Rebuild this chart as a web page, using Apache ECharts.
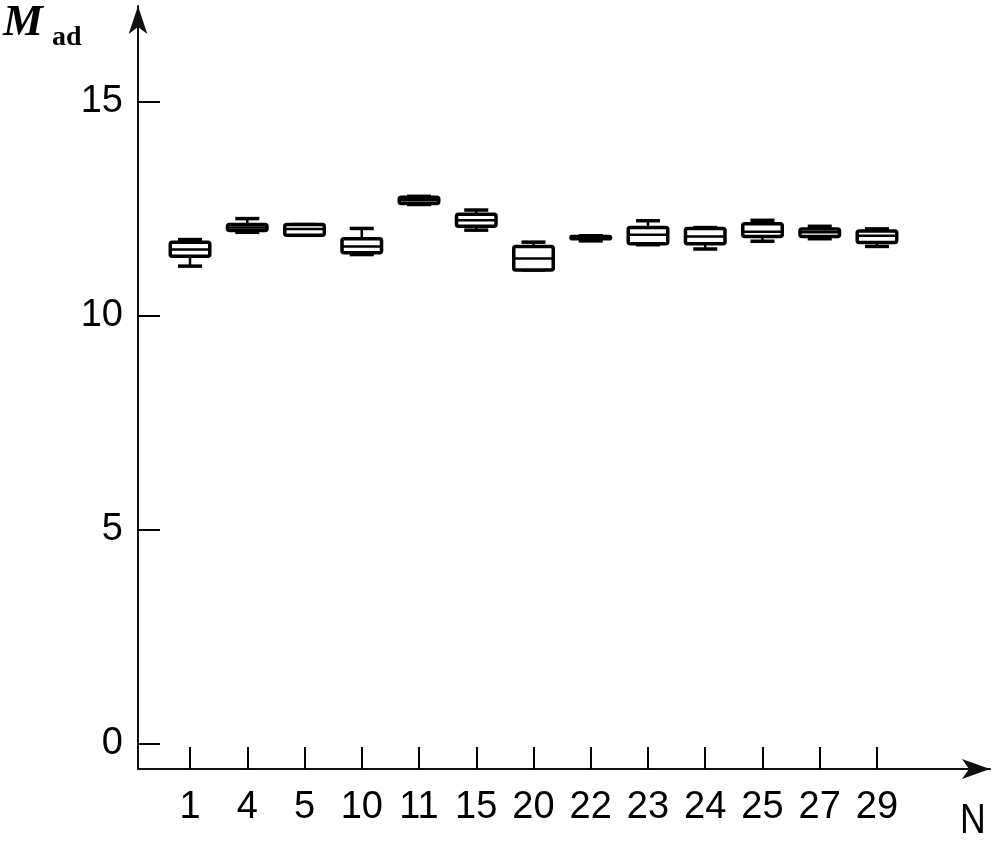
<!DOCTYPE html>
<html>
<head>
<meta charset="utf-8">
<script src="https://cdn.jsdelivr.net/npm/echarts@6/dist/echarts.min.js"></script>
<style>html,body{margin:0;padding:0;background:#fff;}#chart{width:996px;height:841px;}</style>
</head>
<body>
<div id="chart"></div>
<script>
var categories = ['1','4','5','10','11','15','20','22','23','24','25','27','29'];
var mins    = [11.16, 11.95, 11.88, 11.43, 12.60, 12.00, 11.07, 11.75, 11.66, 11.56, 11.74, 11.80, 11.62];
var q1s     = [11.39, 11.99, 11.88, 11.47, 12.62, 12.09, 11.07, 11.80, 11.68, 11.68, 11.85, 11.85, 11.71];
var medians = [11.55, 12.06, 12.03, 11.62, 12.70, 12.23, 11.34, 11.83, 11.89, 11.85, 11.96, 11.95, 11.87];
var q3s     = [11.72, 12.13, 12.13, 11.80, 12.77, 12.37, 11.62, 11.85, 12.06, 12.04, 12.15, 12.03, 11.98];
var maxs    = [11.78, 12.27, 12.13, 12.04, 12.79, 12.47, 11.72, 11.87, 12.22, 12.06, 12.23, 12.09, 12.03];
var yTicks = [0, 5, 10, 15];

var boxData = categories.map(function(c, i){
  return [i, mins[i], q1s[i], medians[i], q3s[i], maxs[i]];
});

var chart = echarts.init(document.getElementById('chart'), null, {renderer:'canvas'});
var labelFont = {fontFamily:'Liberation Sans, Arial, sans-serif', fontSize:38, color:'#000'};
// pixel scale: value 0 at y=744, value 15 at y=101.7; x-axis line at y=769
var pxPerUnit = (744 - 101.7) / 15;
var yBottomVal = -(769 - 744) / pxPerUnit;

chart.setOption({
  backgroundColor:'#fff',
  animation:false,
  grid:[
    {left:138, top:6, right:6, bottom:72},
    {left:161.4, right:90.4, top:101.7, bottom:72},
    {left:138, right:90.4, top:101.7, bottom:97}
  ],
  xAxis:[
    {gridIndex:0, type:'value', min:0, max:1,
     axisLine:{show:true, onZero:false, symbol:['none','arrow'], symbolSize:[15,28], lineStyle:{color:'#111', width:2}},
     axisTick:{show:false}, axisLabel:{show:false}, splitLine:{show:false}},
    {gridIndex:1, type:'category', data:categories, boundaryGap:true,
     axisLine:{show:false, onZero:false},
     axisTick:{show:true, inside:true, alignWithLabel:true, length:22, lineStyle:{color:'#000', width:2}},
     axisLabel:Object.assign({margin:20, interval:0}, labelFont),
     splitLine:{show:false}},
    {gridIndex:2, type:'value', min:0, max:1, show:false}
  ],
  yAxis:[
    {gridIndex:0, type:'value', min:0, max:1,
     axisLine:{show:true, onZero:false, symbol:['none','arrow'], symbolSize:[14,28], lineStyle:{color:'#111', width:2}},
     axisTick:{show:false}, axisLabel:{show:false}, splitLine:{show:false}},
    {gridIndex:1, type:'value', min:yBottomVal, max:yTicks[yTicks.length-1], show:false},
    {gridIndex:2, type:'value', min:yTicks[0], max:yTicks[yTicks.length-1], interval:5,
     axisLine:{show:false, onZero:false},
     axisTick:{show:true, inside:true, length:22, lineStyle:{color:'#000', width:2}},
     axisLabel:Object.assign({margin:15}, labelFont),
     splitLine:{show:false}}
  ],
  series:[{
    type:'custom',
    xAxisIndex:1, yAxisIndex:1,
    data:boxData,
    encode:{x:0, y:[1,2,3,4,5]},
    renderItem:function(params, api){
      var idx = api.value(0);
      var pMin = api.coord([idx, api.value(1)]);
      var pQ1 = api.coord([idx, api.value(2)]);
      var pMed = api.coord([idx, api.value(3)]);
      var pQ3 = api.coord([idx, api.value(4)]);
      var pMax = api.coord([idx, api.value(5)]);
      var band = api.size([1, 0])[0];
      var hw = band * 0.345, cw = band * 0.21;
      var x = pMed[0];
      var st = {stroke:'#000', lineWidth:2.5};
      var cap = {stroke:'#000', lineWidth:3.5};
      return {type:'group', children:[
        {type:'line', shape:{x1:x, y1:pMax[1], x2:x, y2:pQ3[1]}, style:st},
        {type:'line', shape:{x1:x-cw, y1:pMax[1], x2:x+cw, y2:pMax[1]}, style:cap},
        {type:'line', shape:{x1:x, y1:pMin[1], x2:x, y2:pQ1[1]}, style:st},
        {type:'line', shape:{x1:x-cw, y1:pMin[1], x2:x+cw, y2:pMin[1]}, style:cap},
        {type:'rect', shape:{x:x-hw, y:pQ3[1], width:2*hw, height:Math.max(pQ1[1]-pQ3[1], 1), r:2},
         style:{fill:'#fff', stroke:'#000', lineWidth:3.5}},
        {type:'line', shape:{x1:x-hw, y1:pMed[1], x2:x+hw, y2:pMed[1]}, style:st}
      ]};
    }
  }],
  graphic:[
    {type:'text', left:3, top:1, style:{text:'M', font:'italic bold 45px "Liberation Serif", "Times New Roman", serif', fill:'#000'}},
    {type:'text', left:52, top:24, style:{text:'ad', font:'bold 28px "Liberation Serif", "Times New Roman", serif', fill:'#000'}},
    {type:'text', x:960, y:800, scaleX:0.85, style:{text:'N', font:'42px "Liberation Sans", Arial, sans-serif', fill:'#000'}}
  ]
});
</script>
</body>
</html>
